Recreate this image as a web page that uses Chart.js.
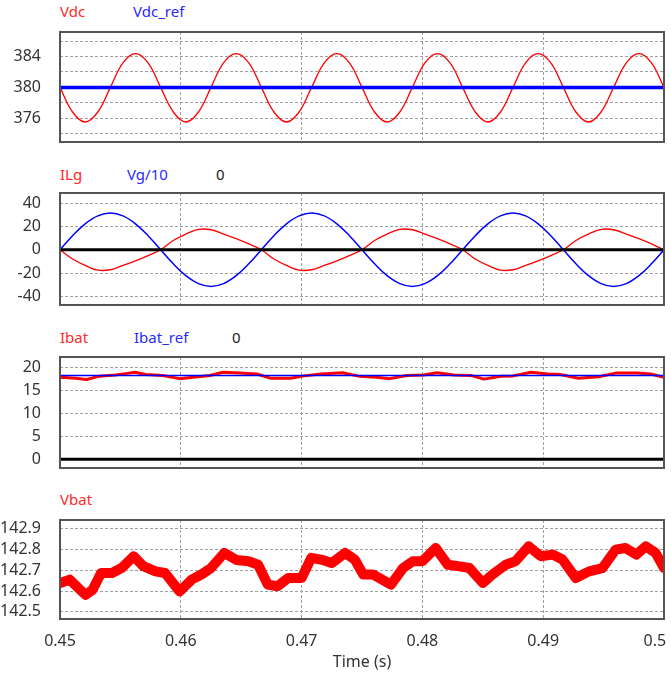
<!DOCTYPE html>
<html>
<head>
<meta charset="utf-8">
<script src="https://cdn.jsdelivr.net/npm/chart.js@4.4.1/dist/chart.umd.min.js"></script>
<style>
  body { margin: 0; width: 671px; height: 674px; overflow: hidden; background: #fff; font-family: 'Noto Sans', sans-serif; }
  .panel { position: absolute; left: 0; width: 671px; }
  .lbl { position: absolute; font-size: 15px; line-height: 18px; white-space: nowrap; }
  .red { color: #ff2a2a; }
  .blue { color: #2a2aff; }
  .black { color: #222; }
</style>
</head>
<body>
<div class="lbl red" style="left:60px;top:2px">Vdc</div>
<div class="lbl blue" style="left:133px;top:2px">Vdc_ref</div>
<div class="lbl red" style="left:60px;top:165px">ILg</div>
<div class="lbl blue" style="left:127px;top:165px">Vg/10</div>
<div class="lbl black" style="left:216px;top:165px">0</div>
<div class="lbl red" style="left:60px;top:328px">Ibat</div>
<div class="lbl blue" style="left:134px;top:328px">Ibat_ref</div>
<div class="lbl black" style="left:232px;top:328px">0</div>
<div class="lbl red" style="left:60px;top:490px">Vbat</div>

<div class="panel" style="top:30px;height:113px"><canvas id="vdcChart"></canvas></div>
<div class="panel" style="top:191px;height:116px"><canvas id="ilgChart"></canvas></div>
<div class="panel" style="top:355px;height:115px"><canvas id="ibatChart"></canvas></div>
<div class="panel" style="top:518px;height:156px"><canvas id="vbatChart"></canvas></div>

<script>
// time axis
const xTicks = [0.45, 0.46, 0.47, 0.48, 0.49, 0.5];
const xTickLabels = ['0.45', '0.46', '0.47', '0.48', '0.49', '0.5'];

// sampled time grid for the ac waveforms
const time = [0.45, 0.45104, 0.45208, 0.45313, 0.45417, 0.45521, 0.45625, 0.45729, 0.45833, 0.45938,
  0.46042, 0.46146, 0.4625, 0.46354, 0.46458, 0.46563, 0.46667, 0.46771, 0.46875, 0.46979,
  0.47083, 0.47188, 0.47292, 0.47396, 0.475, 0.47604, 0.47708, 0.47813, 0.47917, 0.48021,
  0.48125, 0.48229, 0.48333, 0.48438, 0.48542, 0.48646, 0.4875, 0.48854, 0.48958, 0.49063,
  0.49167, 0.49271, 0.49375, 0.49479, 0.49583, 0.49688, 0.49792, 0.49896, 0.5];
const refTime = [0.45, 0.5];

// panel 1
const vdc = [380, 376.8, 375.5, 376.8, 380, 383.2, 384.4, 383.2,
  380, 376.8, 375.5, 376.8, 380, 383.2, 384.4, 383.2,
  380, 376.8, 375.5, 376.8, 380, 383.2, 384.4, 383.2,
  380, 376.8, 375.5, 376.8, 380, 383.2, 384.4, 383.2,
  380, 376.8, 375.5, 376.8, 380, 383.2, 384.4, 383.2,
  380, 376.8, 375.5, 376.8, 380, 383.2, 384.4, 383.2,
  380];
const vdcRef = [380, 380];
const vdcGrid = [374, 376, 378, 380, 382, 384, 386];
const vdcTickLabels = ['', '376', '', '380', '', '384', ''];

// panel 2
const vg10 = [0, 12.1, 22.3, 29.1, 31.5, 29.1, 22.3, 12.1, 0, -12.1, -22.3, -29.1, -31.5, -29.1, -22.3, -12.1,
  0, 12.1, 22.3, 29.1, 31.5, 29.1, 22.3, 12.1, 0, -12.1, -22.3, -29.1, -31.5, -29.1, -22.3, -12.1,
  0, 12.1, 22.3, 29.1, 31.5, 29.1, 22.3, 12.1, 0, -12.1, -22.3, -29.1, -31.5, -29.1, -22.3, -12.1,
  0];
const ilg = [0, -8, -13.5, -17.5, -17.2, -13.5, -9.5, -5, 0, 8, 13.5, 17.5, 17.2, 13.5, 9.5, 5,
  0, -8, -13.5, -17.5, -17.2, -13.5, -9.5, -5, 0, 8, 13.5, 17.5, 17.2, 13.5, 9.5, 5,
  0, -8, -13.5, -17.5, -17.2, -13.5, -9.5, -5, 0, 8, 13.5, 17.5, 17.2, 13.5, 9.5, 5,
  0];
const zeroLevel = [0, 0];
const ilgGrid = [-40, -20, 0, 20, 40];
const ilgTickLabels = ['-40', '-20', '0', '20', '40'];

// panel 3
const ibatTime = [0.45, 0.4513, 0.4522, 0.4532, 0.4546, 0.4557, 0.4562, 0.4571, 0.4585, 0.4599,
  0.4614, 0.4624, 0.4635, 0.4649, 0.4663, 0.4674, 0.4691, 0.4702, 0.4716, 0.4734,
  0.4748, 0.4762, 0.4773, 0.4787, 0.4801, 0.4812, 0.4826, 0.484, 0.4851, 0.4865,
  0.4875, 0.489, 0.4904, 0.4914, 0.4929, 0.4946, 0.496, 0.4978, 0.4989, 0.5];
const ibat = [17.8, 17.6, 17.3, 18.0, 18.3, 18.7, 18.9, 18.4, 18.2, 17.5,
  17.9, 18.2, 18.9, 18.7, 18.5, 17.6, 17.6, 18.1, 18.5, 18.8,
  18.0, 17.8, 17.5, 18.2, 18.3, 18.8, 18.3, 18.2, 17.4, 18.0,
  18.1, 18.9, 18.5, 18.4, 17.6, 17.9, 18.7, 18.7, 18.5, 17.8];
const ibatRef = [18.2, 18.2];
const ibatGrid = [0, 5, 10, 15, 20];
const ibatTickLabels = ['0', '5', '10', '15', '20'];

// panel 4
const vbatTime = [0.45, 0.4508, 0.4521, 0.4527, 0.4534, 0.4543, 0.4551, 0.4561, 0.4569, 0.4579,
  0.4587, 0.4599, 0.4609, 0.4617, 0.4625, 0.4636, 0.4646, 0.4656, 0.4664, 0.4672,
  0.468, 0.4689, 0.47, 0.4708, 0.4716, 0.4725, 0.4736, 0.4744, 0.4751, 0.4759,
  0.4774, 0.4784, 0.4792, 0.48, 0.4811, 0.4821, 0.4831, 0.4839, 0.485, 0.4858,
  0.4869, 0.4877, 0.4888, 0.4898, 0.4908, 0.4916, 0.4927, 0.4938, 0.4949, 0.496,
  0.4968, 0.4977, 0.4985, 0.4993, 0.5];
const vbat = [142.639, 142.655, 142.582, 142.606, 142.687, 142.687, 142.711, 142.768, 142.72, 142.695,
  142.687, 142.598, 142.655, 142.68, 142.711, 142.784, 142.75, 142.744, 142.727, 142.631,
  142.623, 142.663, 142.663, 142.76, 142.752, 142.735, 142.784, 142.752, 142.68, 142.68,
  142.631, 142.711, 142.744, 142.744, 142.808, 142.727, 142.719, 142.711, 142.639, 142.68,
  142.727, 142.744, 142.816, 142.768, 142.776, 142.752, 142.663, 142.695, 142.711, 142.8,
  142.808, 142.776, 142.816, 142.784, 142.711];
const vbatGrid = [142.5, 142.6, 142.7, 142.8, 142.9];
const vbatTickLabels = ['142.5', '142.6', '142.7', '142.8', '142.9'];

const RED = '#ff0000';
const BLUE = '#0000ff';
const tickFont = { family: "'Noto Sans', sans-serif", size: 16 };

function pts(xs, ys) {
  return xs.map((x, i) => ({ x: x, y: ys[i] }));
}

// PSIM style frame round the plot area
const boxBorder = {
  id: 'boxBorder',
  afterDraw(chart) {
    const { ctx, chartArea: a } = chart;
    ctx.save();
    ctx.strokeStyle = '#555';
    ctx.lineWidth = 2;
    ctx.strokeRect(a.left, a.top, a.right - a.left, a.bottom - a.top);
    ctx.restore();
  }
};

function makePanel(id, datasets, yGrid, yLabels, yMin, yMax, padBottom, bottom) {
  return new Chart(document.getElementById(id), {
    type: 'line',
    data: { datasets: datasets },
    options: {
      responsive: true,
      maintainAspectRatio: false,
      animation: false,
      layout: { padding: { top: 2, right: 7, bottom: padBottom, left: 0 } },
      plugins: { legend: { display: false }, tooltip: { enabled: false } },
      elements: { point: { radius: 0 }, line: { borderJoinStyle: 'round', borderCapStyle: 'round' } },
      scales: {
        x: {
          type: 'linear',
          min: 0.45,
          max: 0.5,
          afterBuildTicks: s => { s.ticks = xTicks.map(v => ({ value: v })); },
          afterFit: s => { s.height = bottom ? 55 : 0; s.paddingLeft = 0; s.paddingRight = 0; },
          grid: { color: '#a0a0a0', drawTicks: false },
          border: { display: false, dash: [3, 2] },
          ticks: {
            display: bottom,
            autoSkip: false,
            maxRotation: 0,
            padding: 13,
            color: '#333',
            font: tickFont,
            callback: (v, i) => i === xTickLabels.length - 1 ? xTickLabels[i] + '\u2007\u2007' : xTickLabels[i]
          },
          title: {
            display: bottom,
            text: 'Time (s)',
            color: '#333',
            font: tickFont,
            padding: { top: 0, bottom: 2 }
          }
        },
        y: {
          min: yMin,
          max: yMax,
          afterBuildTicks: s => { s.ticks = yGrid.map(v => ({ value: v })); },
          afterFit: s => { s.width = 60; s.paddingTop = 0; s.paddingBottom = 0; },
          grid: { color: '#a0a0a0', drawTicks: false },
          border: { display: false, dash: [3, 2] },
          ticks: {
            autoSkip: false,
            padding: 19,
            color: '#333',
            font: tickFont,
            callback: (v, i) => yLabels[i]
          }
        }
      }
    },
    plugins: [boxBorder]
  });
}

makePanel('vdcChart', [
  { label: 'Vdc_ref', data: pts(refTime, vdcRef), borderColor: BLUE, borderWidth: 3.5 },
  { label: 'Vdc', data: pts(time, vdc), borderColor: RED, borderWidth: 1.3, tension: 0.4 }
], vdcGrid, vdcTickLabels, 372.9, 387.2, 1, false);

makePanel('ilgChart', [
  { label: '0', data: pts(refTime, zeroLevel), borderColor: '#000', borderWidth: 3 },
  { label: 'ILg', data: pts(time, ilg), borderColor: RED, borderWidth: 1.3, tension: 0.4 },
  { label: 'Vg/10', data: pts(time, vg10), borderColor: BLUE, borderWidth: 1.5, tension: 0.4 }
], ilgGrid, ilgTickLabels, -47.5, 48.8, 2, false);

makePanel('ibatChart', [
  { label: '0', data: pts(refTime, zeroLevel), borderColor: '#000', borderWidth: 3 },
  { label: 'Ibat_ref', data: pts(refTime, ibatRef), borderColor: BLUE, borderWidth: 1.5 },
  { label: 'Ibat', data: pts(ibatTime, ibat), borderColor: RED, borderWidth: 3 }
], ibatGrid, ibatTickLabels, -1.9, 22.2, 2, false);

makePanel('vbatChart', [
  { label: 'Vbat', data: pts(vbatTime, vbat), borderColor: RED, borderWidth: 10 }
], vbatGrid, vbatTickLabels, 142.465, 142.943, 0, true);
</script>
</body>
</html>
